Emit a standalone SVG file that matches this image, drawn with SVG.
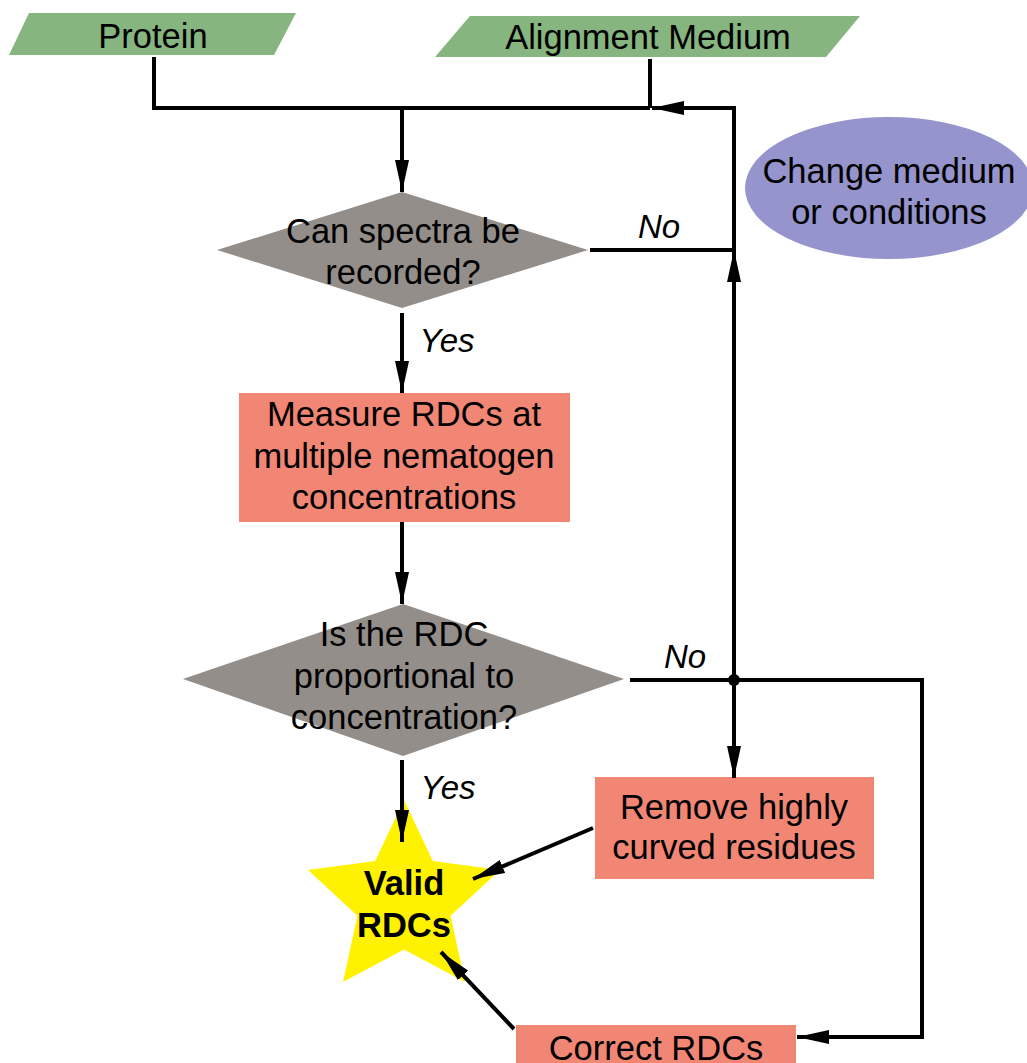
<svg xmlns="http://www.w3.org/2000/svg" width="1027" height="1063" viewBox="0 0 1027 1063">
<style>
text{font-family:"Liberation Sans",Arial,sans-serif;font-size:34.5px;fill:#000;text-anchor:middle}
.lbl{font-style:italic;font-size:33px}
.b{font-weight:bold}
.c{fill:none;stroke:#000;stroke-width:4}
</style>
<defs>
<marker id="ah" markerUnits="userSpaceOnUse" markerWidth="34" markerHeight="16" refX="32" refY="7" orient="auto">
<path d="M0,0 L32,7 L0,14 z" fill="#000"/>
</marker>
</defs>
<g id="protein"><polygon points="29,13 296,13 274,55 9,55" fill="#86B57F"/><text x="153" y="48">Protein</text></g>
<g id="medium"><polygon points="470,16 860,16 826,57 435,57" fill="#86B57F"/><text x="648" y="49">Alignment Medium</text></g>
<g id="change"><ellipse cx="889" cy="188" rx="144" ry="71" fill="#9594CC"/><text x="889" y="183">Change medium</text><text x="889" y="224">or conditions</text></g>
<g id="q1"><polygon points="402,192 588,250 402,308 217,250" fill="#938E8A"/><text x="403" y="243">Can spectra be</text><text x="403" y="284">recorded?</text></g>
<g id="measure"><rect x="239" y="393" width="331" height="129" fill="#F28675"/><text x="404" y="426">Measure RDCs at</text><text x="404" y="468">multiple nematogen</text><text x="404" y="509">concentrations</text></g>
<g id="q2"><polygon points="403,604 624,679 403,756 183,679" fill="#938E8A"/><text x="404" y="646">Is the RDC</text><text x="404" y="688">proportional to</text><text x="404" y="729">concentration?</text></g>
<g id="remove"><rect x="595" y="777" width="279" height="102" fill="#F28675"/><text x="734" y="819">Remove highly</text><text x="734" y="859">curved residues</text></g>
<g id="valid"><polygon points="404,800 432.8,861 500,870 450.6,915.7 465,982 404,949.6 343,982 357.4,915.7 308,870 375.2,861" fill="#FFF200"/><text class="b" x="404" y="895">Valid</text><text class="b" x="404" y="937">RDCs</text></g>
<g id="correct"><rect x="516" y="1025" width="280" height="45" fill="#F28675"/><text x="656" y="1060">Correct RDCs</text></g>
<g id="connectors">
<path class="c" d="M154,57 V108 H650"/>
<path class="c" d="M650,59 V108"/>
<path class="c" d="M402,108 V192" marker-end="url(#ah)"/>
<path class="c" d="M734,680 V250" marker-end="url(#ah)"/>
<path class="c" d="M734,250 V108 H652" marker-end="url(#ah)"/>
<path class="c" d="M590,250 H734"/>
<path class="c" d="M402,313 V393" marker-end="url(#ah)"/>
<path class="c" d="M402,522 V604" marker-end="url(#ah)"/>
<path class="c" d="M630,680 H922 V1037 H797" marker-end="url(#ah)"/>
<path class="c" d="M734,680 V778" marker-end="url(#ah)"/>
<path class="c" d="M402,760 V842" marker-end="url(#ah)"/>
<path class="c" d="M593,828 L473,879" marker-end="url(#ah)"/>
<path class="c" d="M514,1029 L441,952" marker-end="url(#ah)"/>
<circle cx="734" cy="680" r="6" fill="#000"/>
<text class="lbl" x="659" y="238">No</text>
<text class="lbl" x="447" y="352">Yes</text>
<text class="lbl" x="685" y="668">No</text>
<text class="lbl" x="448" y="799">Yes</text>
</g>
</svg>
